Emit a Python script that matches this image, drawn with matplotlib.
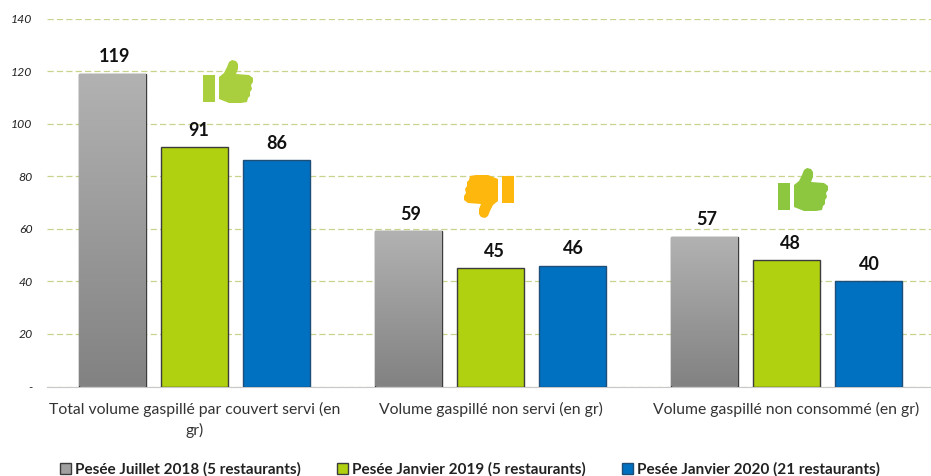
import numpy as np
import matplotlib
matplotlib.use("Agg")
import matplotlib.pyplot as plt
from matplotlib.path import Path
from matplotlib.patches import PathPatch
from matplotlib.transforms import Affine2D

categories = [
    "Total volume gaspillé par couvert servi (en\ngr)",
    "Volume gaspillé non servi (en gr)",
    "Volume gaspillé non consommé (en gr)",
]
series_names = [
    "Pesée Juillet 2018 (5 restaurants)",
    "Pesée Janvier 2019 (5 restaurants)",
    "Pesée Janvier 2020 (21 restaurants)",
]
juillet_2018 = [119, 59, 57]
janvier_2019 = [91, 45, 48]
janvier_2020 = [86, 46, 40]
y_ticks = [0, 20, 40, 60, 80, 100, 120, 140]
y_tick_labels = ["-", "20", "40", "60", "80", "100", "120", "140"]

W, H = 931, 476
GREEN = "#b0d10f"
BLUE = "#0070c0"
EDGE = "#3c3c3c"

plt.rcParams["font.family"] = ["Lato", "DejaVu Sans"]

fig = plt.figure(figsize=(W / 100, H / 100), dpi=100)
ax = fig.add_axes([46.5 / W, 1 - 386.5 / H, 888 / W, 368 / H])
ax.set_xlim(-0.5, 2.5)
ax.set_ylim(0, 140)

x = np.arange(len(categories))
bar_w = 0.225
step = 0.277

grey = ax.bar(x - step, juillet_2018, bar_w, color="#a0a0a0", edgecolor=EDGE, linewidth=1.0, zorder=3)
green = ax.bar(x, janvier_2019, bar_w, color=GREEN, edgecolor=EDGE, linewidth=1.0, zorder=3)
blue = ax.bar(x + step, janvier_2020, bar_w, color=BLUE, edgecolor="#1f4e79", linewidth=1.0, zorder=3)

# vertical gradient inside the grey bars
ramp = np.linspace(0, 1, 128).reshape(-1, 1)
cmap = matplotlib.colors.LinearSegmentedColormap.from_list("g", ["#828282", "#b2b2b2"])
for b in grey:
    im = ax.imshow(ramp, cmap=cmap, origin="lower", aspect="auto", zorder=3,
                   extent=[b.get_x(), b.get_x() + b.get_width(), 0, b.get_height()])
    im.set_clip_path(b)
ax.set_xlim(-0.5, 2.5)
ax.set_ylim(0, 140)

# value labels, nudged a little sideways per series
for bars, nudge in ((grey, 1.5), (green, 3.0), (blue, 0.3)):
    for b in bars:
        ax.annotate(f"{b.get_height():.0f}", (b.get_x() + b.get_width() / 2, b.get_height()),
                    xytext=(nudge, 6), textcoords="offset points", ha="center", va="bottom",
                    fontsize=13, fontweight="bold", color="#111111", zorder=4)

ax.yaxis.grid(True, color="#c9d38c", linestyle=(0, (5, 2.5)), linewidth=0.9, zorder=1)
ax.set_axisbelow(True)
ax.set_yticks(y_ticks)
ax.set_yticklabels(y_tick_labels, fontsize=8.8, fontstyle="italic", color="#222222")
ax.tick_params(axis="y", length=0, pad=10)
ax.set_xticks(x)
ax.set_xticklabels(categories, fontsize=11.3, color="#333333", linespacing=1.5)
ax.tick_params(axis="x", length=0, pad=11)
for side in ("top", "left", "right"):
    ax.spines[side].set_visible(False)
ax.spines["bottom"].set_color("#c8c8c8")
ax.spines["bottom"].set_linewidth(0.8)

# thumb icon, origin at its top-left corner, units are pixels
hand = [(16, 17), (21, 13), (24, 7), (26, 2), (29, 0), (33, 1), (35, 4), (35, 9), (33, 14),
        (46, 15), (50, 18), (50, 22), (48, 25), (49, 29), (47, 32), (47, 36), (45, 38),
        (44, 42), (38, 43), (26, 43), (16, 39), (16, 17)]
cuff = [(0, 15), (12, 15), (12, 42), (0, 42), (0, 15)]
verts = hand + cuff
codes = ([Path.MOVETO] + [Path.LINETO] * (len(hand) - 2) + [Path.CLOSEPOLY]
         + [Path.MOVETO] + [Path.LINETO] * (len(cuff) - 2) + [Path.CLOSEPOLY])
thumb = Path(verts, codes)


def add_thumb(px, py, color, down=False):
    t = Affine2D()
    if down:
        t = t.rotate_deg(180).translate(50, 45)
    t = t.translate(px, py).scale(1 / W, -1 / H).translate(0, 1)
    fig.add_artist(PathPatch(thumb, transform=t + fig.transFigure,
                             facecolor=color, edgecolor="none", zorder=5))


add_thumb(203, 60, "#a9cf3e")
add_thumb(464, 173, "#fdb70d", down=True)
add_thumb(778, 168, "#8dc63f")

leg = fig.legend(
    [grey[0], green[0], blue[0]], series_names, loc="lower left",
    bbox_to_anchor=(46 / W, -0.03), ncol=3, frameon=False, fontsize=11.0,
    handlelength=0.72, handleheight=0.72, handletextpad=0.25, columnspacing=2.4,
)
for t in leg.get_texts():
    t.set_fontweight("bold")
    t.set_color("#222222")

fig.savefig("out.png", dpi=100)
